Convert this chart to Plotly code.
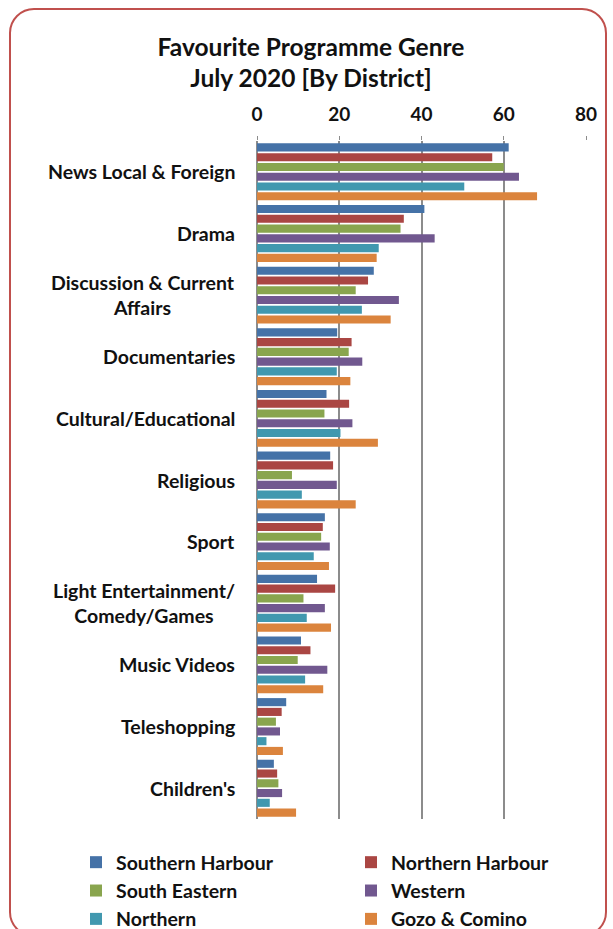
import plotly.graph_objects as go

# Survey results: favourite programme genre by district (%)
genres = [
    "News Local & Foreign",
    "Drama",
    "Discussion & Current<br>Affairs",
    "Documentaries",
    "Cultural/Educational",
    "Religious",
    "Sport",
    "Light Entertainment/<br>Comedy/Games",
    "Music Videos",
    "Teleshopping",
    "Children's",
]

southern_harbour = [61.2, 40.7, 28.4, 19.5, 16.9, 17.8, 16.5, 14.6, 10.7, 7.1, 4.1]
northern_harbour = [57.2, 35.7, 27.0, 23.0, 22.4, 18.5, 16.0, 19.0, 13.0, 6.0, 4.9]
south_eastern = [60.0, 34.9, 24.0, 22.3, 16.4, 8.5, 15.6, 11.3, 9.9, 4.6, 5.2]
western = [63.7, 43.2, 34.5, 25.6, 23.2, 19.4, 17.7, 16.5, 17.1, 5.6, 6.1]
northern = [50.4, 29.6, 25.5, 19.4, 20.3, 10.9, 13.8, 12.1, 11.7, 2.3, 3.1]
gozo_comino = [68.1, 29.1, 32.5, 22.7, 29.4, 24.0, 17.5, 18.0, 16.1, 6.3, 9.5]

district_names = [
    "Southern Harbour", "Northern Harbour", "South Eastern",
    "Western", "Northern", "Gozo & Comino",
]
district_values = [
    southern_harbour, northern_harbour, south_eastern,
    western, northern, gozo_comino,
]
district_colors = ["#4572A7", "#AA4643", "#89A54E", "#71588F", "#4198AF", "#DB843D"]

x_ticks = [0, 20, 40, 60, 80]

W, H = 613, 929
ML, MR, MT, MB = 257, 27, 141, 110
PW, PH = W - ML - MR, H - MT - MB

FONT = "Lato"
TXT = "#111111"
GRID = "#8C8C8C"


def px_x(px):
    return (px - ML) / PW


def px_y(py):
    return (H - MB - py) / PH


fig = go.Figure()
for name, vals, col in zip(district_names, district_values, district_colors):
    fig.add_trace(go.Bar(
        y=genres,
        x=vals,
        orientation="h",
        name=name,
        marker=dict(color=col, line=dict(width=0)),
    ))

# Category labels, centred per line and right-aligned against the axis
annotations = []
for g in genres:
    annotations.append(dict(
        x=px_x(237), xref="paper", xanchor="right",
        y=g, yref="y", yanchor="middle",
        text=g, showarrow=False, align="center",
        font=dict(family=FONT, size=19.5, color=TXT, weight="bold"),
    ))

# Rounded frame around the whole chart
L, R, T, B, r = 10, 606, 9, 936, 24
k = 0.552 * r


def P(x, y):
    return f"{px_x(x):.5f},{px_y(y):.5f}"


frame_path = (
    f"M{P(L + r, T)} L{P(R - r, T)} "
    f"C{P(R - r + k, T)} {P(R, T + r - k)} {P(R, T + r)} "
    f"L{P(R, B - r)} "
    f"C{P(R, B - r + k)} {P(R - r + k, B)} {P(R - r, B)} "
    f"L{P(L + r, B)} "
    f"C{P(L + r - k, B)} {P(L, B - r + k)} {P(L, B - r)} "
    f"L{P(L, T + r)} "
    f"C{P(L, T + r - k)} {P(L + r - k, T)} {P(L + r, T)} Z"
)

fig.update_layout(
    width=W,
    height=H,
    margin=dict(l=ML, r=MR, t=MT, b=MB, autoexpand=False),
    paper_bgcolor="white",
    plot_bgcolor="white",
    barmode="group",
    bargap=0.05,
    bargroupgap=0.17,
    title=dict(
        text="Favourite Programme Genre<br>July 2020 [By District]",
        x=311 / W, xref="container", xanchor="center",
        y=1 - 55.5 / H, yref="container", yanchor="middle",
        font=dict(family=FONT, size=24.5, color=TXT, weight="bold"),
    ),
    xaxis=dict(
        side="top",
        range=[0, 80],
        tickvals=x_ticks,
        ticks="outside",
        ticklen=4,
        tickwidth=1,
        tickcolor=GRID,
        ticklabelstandoff=7,
        tickfont=dict(family=FONT, size=19, color=TXT, weight="bold"),
        showgrid=True,
        gridcolor=GRID,
        gridwidth=2,
        zeroline=True,
        zerolinecolor=GRID,
        zerolinewidth=2,
        showline=False,
        fixedrange=True,
    ),
    yaxis=dict(
        autorange="reversed",
        showticklabels=False,
        ticks="",
        showgrid=False,
        fixedrange=True,
    ),
    legend=dict(
        orientation="h",
        x=px_x(76), xanchor="left",
        y=px_y(843), yanchor="top",
        entrywidth=230,
        entrywidthmode="pixels",
        font=dict(family=FONT, size=19.5, color=TXT, weight="bold"),
        traceorder="normal",
        bgcolor="rgba(0,0,0,0)",
    ),
    annotations=annotations,
    shapes=[dict(
        type="path", xref="paper", yref="paper", path=frame_path,
        line=dict(color="#C0504D", width=2), fillcolor="rgba(0,0,0,0)",
        layer="above",
    )],
    showlegend=True,
)

fig.write_html("out.html")
